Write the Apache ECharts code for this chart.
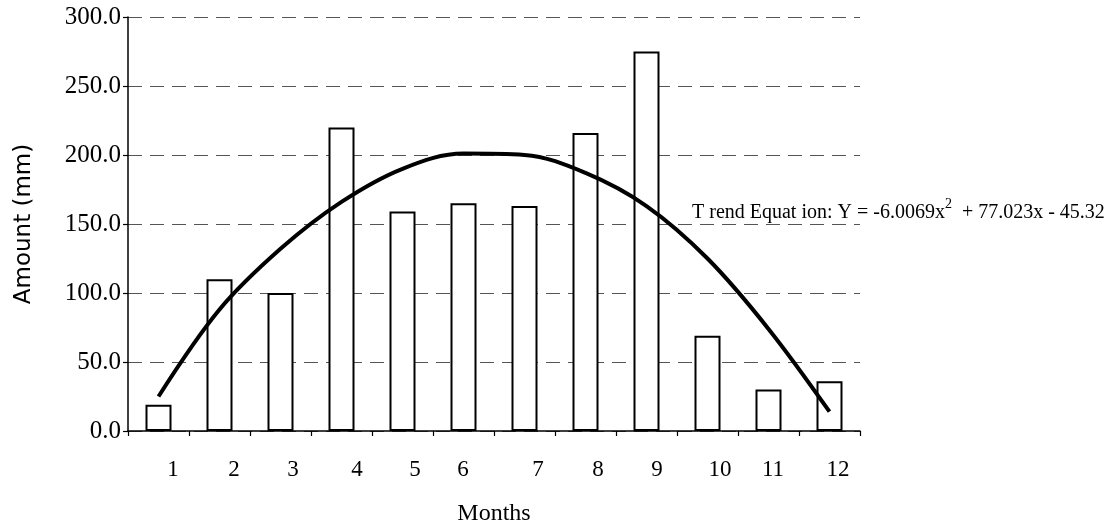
<!DOCTYPE html>
<html>
<head>
<meta charset="utf-8">
<script src="https://cdn.jsdelivr.net/npm/echarts@6/dist/echarts.min.js"></script>
<style>html,body{margin:0;padding:0;background:#fff}#c{width:1109px;height:523px}</style>
</head>
<body>
<div id="c"></div>
<script>
const months = ['1','2','3','4','5','6','7','8','9','10','11','12'];
const amounts = [19, 110, 100, 220, 159, 165, 163, 216, 275, 69, 30, 36];
const trendValues = [25, 88, 132, 166, 190, 201, 200, 187, 163, 125, 74, 14];
const yTicks = { min: 0, max: 300, interval: 50 };
const trendText = ['T rend Equat ion: Y = -6.0069x', '2', '  + 77.023x - 45.32'];

// label horizontal shifts (px) as seen in the reference
const labelShift = [14.5, 14.5, 12.5, 15.5, 12.5, -0.5, 13.5, 12.5, 10.5, 12.5, 4.5, 8.5];
const serif = '"Liberation Serif", "Times New Roman", serif';
const rich = {};
labelShift.forEach((s, i) => {
  rich['s' + i] = {
    fontFamily: serif, fontSize: 23, color: '#000',
    padding: s >= 0 ? [0, 0, 0, 2 * s] : [0, -2 * s, 0, 0]
  };
});

const chart = echarts.init(document.getElementById('c'), null, { renderer: 'canvas' });
chart.setOption({
  animation: false,
  backgroundColor: '#fff',
  grid: { left: 128, right: 249, top: 17, bottom: 92, containLabel: false, outerBoundsMode: 'none' },
  xAxis: {
    type: 'category',
    data: months,
    boundaryGap: true,
    name: 'Months',
    nameLocation: 'middle',
    nameGap: 71,
    nameTextStyle: { fontFamily: serif, fontSize: 24, color: '#000' },
    axisLine: { lineStyle: { color: '#000', width: 1.5 } },
    axisTick: { show: true, length: 5, lineStyle: { color: '#000', width: 1.2 } },
    axisLabel: {
      interval: 0, margin: 27,
      formatter: (v, i) => '{s' + i + '|' + v + '}',
      rich: rich
    },
    splitLine: { show: false }
  },
  yAxis: {
    type: 'value',
    min: yTicks.min, max: yTicks.max, interval: yTicks.interval,
    name: 'Amount (mm)',
    nameLocation: 'middle',
    nameRotate: 90,
    nameGap: 92,
    nameTextStyle: { fontFamily: '"DejaVu Sans", sans-serif', fontSize: 23, color: '#000' },
    axisLine: { show: true, lineStyle: { color: '#000', width: 1.5 } },
    axisTick: { show: true, length: 5, lineStyle: { color: '#000', width: 1.2 } },
    axisLabel: {
      margin: 7,
      formatter: v => v.toFixed(1),
      fontFamily: serif, fontSize: 25, color: '#000'
    },
    splitLine: { show: true, lineStyle: { color: '#555', width: 1.2, type: [14, 8] } }
  },
  series: [
    {
      type: 'bar',
      data: amounts,
      barWidth: 26,
      itemStyle: { color: '#fff', borderColor: '#000', borderWidth: 2 },
      z: 2
    },
    {
      type: 'line',
      data: trendValues,
      smooth: 0.35,
      showSymbol: false,
      symbol: 'none',
      lineStyle: { color: '#000', width: 4 },
      z: 3
    }
  ],
  graphic: [
    {
      type: 'text',
      left: 692,
      top: 197,
      z: 10,
      style: {
        text: '{a|' + trendText[0] + '}{b|' + trendText[1] + '}{a|' + trendText[2] + '}',
        rich: {
          a: { fontFamily: serif, fontSize: 20, fill: '#000', verticalAlign: 'bottom', lineHeight: 26 },
          b: { fontFamily: serif, fontSize: 14, fill: '#000', verticalAlign: 'top', lineHeight: 26 }
        }
      }
    }
  ]
});
</script>
</body>
</html>
